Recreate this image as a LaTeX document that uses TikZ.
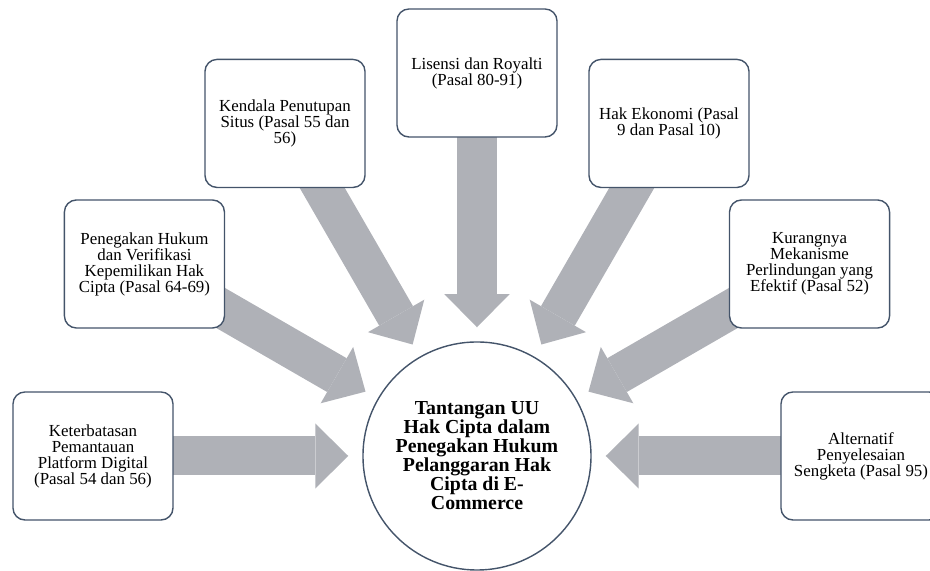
\documentclass[tikz,border=0pt]{standalone}
\usepackage{fontspec}
\setmainfont{Liberation Serif}
\usetikzlibrary{arrows.meta, backgrounds}

\definecolor{framecol}{HTML}{44546A}
\definecolor{arrowcol}{HTML}{AFB1B7}

\begin{document}
\begin{tikzpicture}[
			x=0.025cm,
			y=0.025cm,
			topic/.style={
				draw=framecol,
				rectangle,
				rounded corners=0.3cm,
				line width=1pt,
				minimum width=4cm,
				minimum height=3.2cm,
				inner sep=2pt,
				align=center,
				fill=white,
				font=\fontsize{12}{11.4}\selectfont
			},
			hub/.style={
				draw=framecol,
				circle,
				line width=1pt,
				minimum size=5.7cm,
				inner sep=0pt,
				align=center,
				fill=white,
				font=\fontsize{14.1}{13.5}\selectfont\bfseries
			},
			blockarrow/.style={
				draw=arrowcol,
				line width=0.975cm,
				-{Triangle[width=1.625cm, length=0.825cm, line width=0pt]},
				shorten >=0.35cm
			}
			]
			\useasboundingbox (-477,-115) rectangle (453,456);
			% Centre
			\node[hub] (c0) at (0,0) {Tantangan UU\\Hak Cipta dalam\\Penegakan Hukum\\Pelanggaran Hak\\Cipta di E-\\Commerce};
			% Topics
			\node[topic] (p1) at (180:384) {Keterbatasan\\Pemantauan\\Platform Digital\\(Pasal 54 dan 56)};
			\node[topic] (p2) at (150:384) {Penegakan Hukum\\dan Verifikasi\\Kepemilikan Hak\\Cipta (Pasal 64-69)};
			\node[topic] (p3) at (120:384) {Kendala Penutupan\\Situs (Pasal 55 dan\\56)};
			\node[topic] (p4) at (90:383) {Lisensi dan Royalti\\(Pasal 80-91)};
			\node[topic] (p5) at (60:384) {Hak Ekonomi (Pasal\\9 dan Pasal 10)};
			\node[topic] (p6) at (30:384) {Kurangnya\\Mekanisme\\Perlindungan yang\\Efektif (Pasal 52)};
			\node[topic] (p7) at (0:384) {Alternatif\\Penyelesaian\\Sengketa (Pasal 95)};
			% Arrows
			\begin{scope}[on background layer]
				\draw[blockarrow] (p1.center) -- (c0);
				\draw[blockarrow] (p2.center) -- (c0);
				\draw[blockarrow] (p3.center) -- (c0);
				\draw[blockarrow] (p4.center) -- (c0);
				\draw[blockarrow] (p5.center) -- (c0);
				\draw[blockarrow] (p6.center) -- (c0);
				\draw[blockarrow] (p7.center) -- (c0);
			\end{scope}
		\end{tikzpicture}
\end{document}
